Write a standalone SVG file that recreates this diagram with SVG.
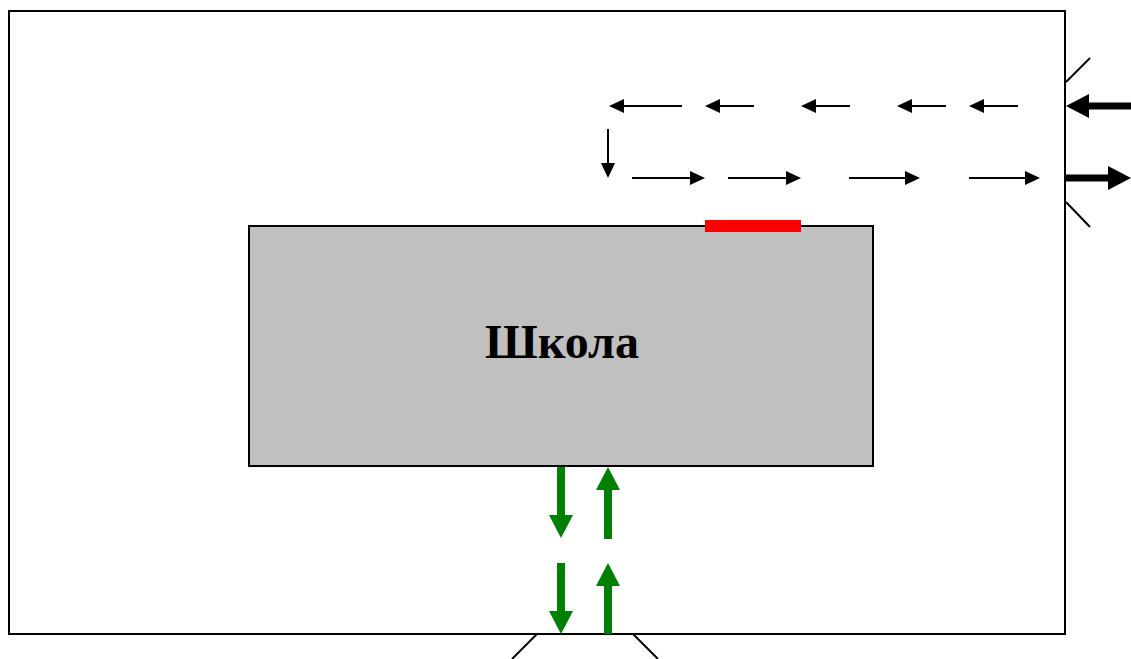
<svg xmlns="http://www.w3.org/2000/svg" width="1131" height="659" viewBox="0 0 1131 659">
<style>
.thin{stroke:#000;stroke-width:2;fill:none}
.small{stroke:#000;stroke-width:2;fill:none;marker-end:url(#sm)}
.big{stroke:#000;stroke-width:7;fill:none;marker-end:url(#bg)}
.green{stroke:#008000;stroke-width:8;fill:none;marker-end:url(#gr)}
.lbl{font-family:"Liberation Serif","Times New Roman",serif;font-weight:bold;font-size:48px;fill:#000}
</style>
<defs>
<marker id="sm" markerUnits="userSpaceOnUse" markerWidth="15" markerHeight="14" refX="0" refY="7" orient="auto" overflow="visible"><path d="M0,0 L15,7 L0,14 z" fill="#000"/></marker>
<marker id="bg" markerUnits="userSpaceOnUse" markerWidth="23" markerHeight="24" refX="0" refY="12" orient="auto" overflow="visible"><path d="M0,0 L23,12 L0,24 z" fill="#000"/></marker>
<marker id="gr" markerUnits="userSpaceOnUse" markerWidth="23" markerHeight="24" refX="0" refY="12" orient="auto" overflow="visible"><path d="M0,0 L23,12 L0,24 z" fill="#008000"/></marker>
</defs>
<g id="yard">
<rect x="9" y="11" width="1056" height="623" fill="#fff" stroke="#000" stroke-width="2"/>
</g>
<g id="gates">
<line class="thin" x1="1066" y1="82" x2="1090" y2="58"/>
<line class="thin" x1="1066" y1="202" x2="1090" y2="227"/>
<line class="thin" x1="537" y1="634" x2="512" y2="659"/>
<line class="thin" x1="633" y1="634" x2="658" y2="659"/>
</g>
<g id="school">
<rect x="249" y="226" width="624" height="240" fill="#C0C0C0" stroke="#000" stroke-width="2"/>
<text class="lbl" x="562" y="358" text-anchor="middle">Школа</text>
</g>
<g id="marker-red">
<rect x="705" y="220" width="96" height="12" fill="#FF0000"/>
</g>
<g id="connectors">
<line class="big" x1="1131" y1="106" x2="1089" y2="106"/>
<line class="big" x1="1066" y1="178" x2="1108" y2="178"/>
<line class="small" x1="682" y1="106" x2="624" y2="106"/>
<line class="small" x1="754" y1="106" x2="720" y2="106"/>
<line class="small" x1="850" y1="106" x2="816" y2="106"/>
<line class="small" x1="946" y1="106" x2="912" y2="106"/>
<line class="small" x1="1018" y1="106" x2="984" y2="106"/>
<line class="small" x1="608" y1="129" x2="608" y2="163"/>
<line class="small" x1="632" y1="178" x2="690" y2="178"/>
<line class="small" x1="728" y1="178" x2="786" y2="178"/>
<line class="small" x1="849" y1="178" x2="905" y2="178"/>
<line class="small" x1="969" y1="178" x2="1025" y2="178"/>
<line class="green" x1="561" y1="467" x2="561" y2="515"/>
<line class="green" x1="561" y1="563" x2="561" y2="611"/>
<line class="green" x1="608" y1="539" x2="608" y2="490"/>
<line class="green" x1="608" y1="634" x2="608" y2="586"/>
</g>
</svg>
